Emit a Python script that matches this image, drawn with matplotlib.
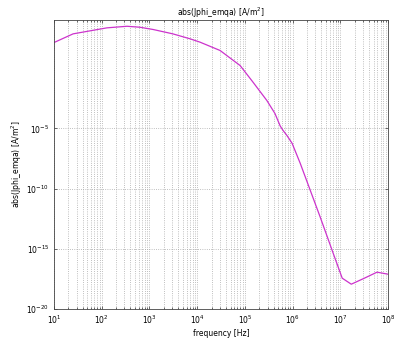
import numpy as np
import matplotlib
matplotlib.use('Agg')
import matplotlib.pyplot as plt
from matplotlib.ticker import LogLocator, NullFormatter, FixedLocator

# values (log10 of frequency, log10 of |Jphi|)
log_freq = [1.00, 1.40, 2.11, 2.53, 2.80, 3.08, 3.49, 3.85, 4.06, 4.48,
            4.90, 5.17, 5.46, 5.63, 5.74, 5.80, 5.88, 5.99, 6.16,
            6.58, 6.85, 7.04, 7.23, 7.50, 7.77, 8.00]
log_jphi = [2.13, 2.85, 3.35, 3.48, 3.40, 3.21, 2.85, 2.44, 2.16, 1.47,
            0.22, -1.16, -2.68, -3.76, -4.80, -5.17, -5.58, -6.24, -7.90,
            -12.38, -15.36, -17.44, -17.94, -17.45, -16.94, -17.11]

freq = 10.0 ** np.array(log_freq)
jphi = 10.0 ** np.array(log_jphi)

FS = 5.5
plt.rcParams['font.family'] = 'DejaVu Sans'

fig = plt.figure(figsize=(4.13, 3.38), dpi=100)
ax = fig.add_axes([0.1308, 0.0858, 0.8087, 0.855])
ax.plot(freq, jphi, color='#cc33cc', lw=0.9)

ax.set_xscale('log')
ax.set_yscale('log')
ax.set_xlim(1e1, 1e8)
ax.set_ylim(1e-20, 1e4)

ax.xaxis.set_major_locator(LogLocator(base=10, numticks=10))
ax.xaxis.set_minor_locator(LogLocator(base=10, subs=np.arange(2, 10), numticks=20))
ax.xaxis.set_minor_formatter(NullFormatter())
ax.yaxis.set_major_locator(FixedLocator([1e-20, 1e-15, 1e-10, 1e-5]))
ax.yaxis.set_minor_locator(FixedLocator([]))

ax.grid(True, which='major', axis='both', ls=':', color='#aaaaaa', lw=0.6)
ax.grid(True, which='minor', axis='x', ls=':', color='#aaaaaa', lw=0.6)

ax.tick_params(which='both', direction='in', top=True, right=True,
               labelsize=FS, length=2.5, width=0.5, color='#333333')
ax.tick_params(which='minor', length=1.5)
for s in ax.spines.values():
    s.set_linewidth(0.6)
    s.set_color('#444444')

ax.set_title('abs(Jphi_emqa) [A/m$^2$]', fontsize=FS, pad=3)
ax.set_xlabel('frequency [Hz]', fontsize=FS, labelpad=2)
ax.set_ylabel('abs(Jphi_emqa) [A/m$^2$]', fontsize=FS, labelpad=2)

fig.savefig('out.png', dpi=100)
